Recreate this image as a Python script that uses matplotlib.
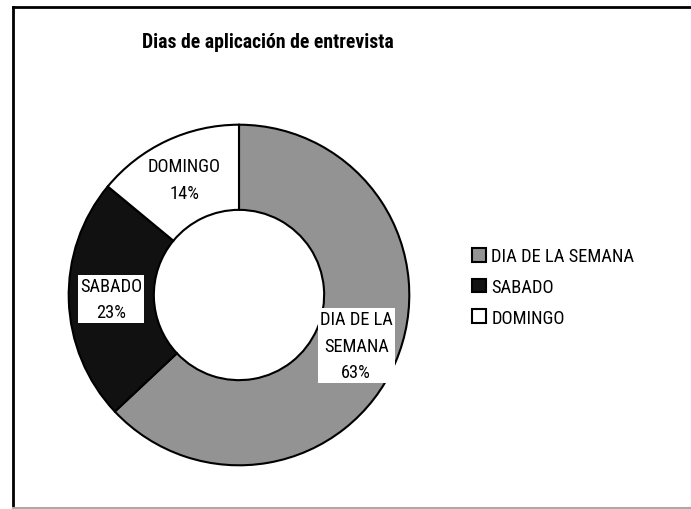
import matplotlib
matplotlib.use("Agg")
import matplotlib.pyplot as plt
from matplotlib.patches import Patch
from matplotlib.lines import Line2D
import numpy as np

title = "Dias de aplicación de entrevista"
categories = ["DIA DE LA SEMANA", "SABADO", "DOMINGO"]
label_texts = ["DIA DE LA\nSEMANA", "SABADO", "DOMINGO"]
values = [63, 23, 14]
colors = ["#939393", "#111111", "#ffffff"]

plt.rcParams['font.family'] = ['Roboto Condensed', 'DejaVu Sans']

fig = plt.figure(figsize=(6.91, 5.10), dpi=100)
W, H = 691, 510

# frame lines
fig.add_artist(Line2D([13.5 / W, 13.5 / W], [1 - 8 / H, 0], color="black", lw=2))
fig.add_artist(Line2D([13.5 / W, 1], [1 - 8 / H, 1 - 8 / H], color="black", lw=2))
fig.add_artist(Line2D([13.5 / W, 1], [1.5 / H, 1.5 / H], color="#aaaaaa", lw=1.5))

fig.text(268 / W, 1 - 42 / H, title, ha="center", va="center",
         fontsize=14.2, fontweight="bold")

cx, cy, r = 239, 296, 172
ax = fig.add_axes([(cx - r) / W, 1 - (cy + r) / H, 2 * r / W, 2 * r / H])
wedges, _ = ax.pie(values, colors=colors, startangle=90, counterclock=False,
                   radius=1, wedgeprops=dict(width=0.5, edgecolor="black", linewidth=1.5))
ax.set_xlim(-1.01, 1.01)
ax.set_ylim(-1.01, 1.01)
ax.set_aspect("auto")
ax.axis("off")

for w, lab, v in zip(wedges, label_texts, values):
    ang = np.deg2rad((w.theta1 + w.theta2) / 2)
    x, y = 0.75 * np.cos(ang), 0.75 * np.sin(ang)
    ax.text(x, y, f"{lab}\n{v}%", ha="center", va="center", fontsize=13.2,
            linespacing=1.6,
            bbox=dict(facecolor="white", edgecolor="none", pad=1.5))

handles = [Patch(facecolor=c, edgecolor="black", linewidth=1.5) for c in colors]
fig.legend(handles, categories, loc="center left", bbox_to_anchor=(0.672, 1 - 288 / H),
           frameon=False, fontsize=13.3, handlelength=0.75, handleheight=0.75,
           handletextpad=0.3, labelspacing=0.68, borderaxespad=0)

fig.savefig("out.png", dpi=100)
